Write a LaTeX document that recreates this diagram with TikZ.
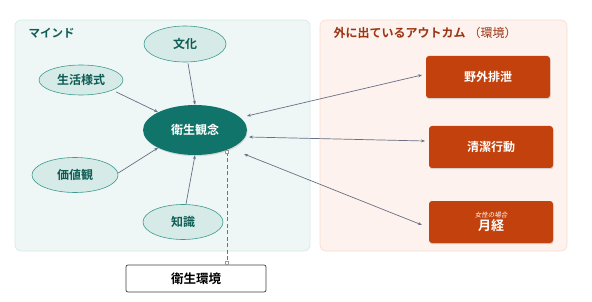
\documentclass[tikz,border=0pt]{standalone}
\usepackage{fontspec}
\setmainfont{Noto Sans CJK JP}[BoldFont={Noto Sans CJK JP Bold}]
\newfontfamily\jpslant{Noto Sans CJK JP}[FakeSlant=0.2]
\usetikzlibrary{arrows.meta,shadows,shapes.geometric}
\definecolor{mindfill}{HTML}{EEF7F6}
\definecolor{mindborder}{HTML}{D3EAE6}
\definecolor{mindtitle}{HTML}{0F5C55}
\definecolor{outfill}{HTML}{FDF2ED}
\definecolor{outborder}{HTML}{FADCCB}
\definecolor{outtitle}{HTML}{9A3412}
\definecolor{ellfill}{HTML}{D6EBE7}
\definecolor{ellborder}{HTML}{3E9A8E}
\definecolor{ellfont}{HTML}{0F5C55}
\definecolor{corefill}{HTML}{11746A}
\definecolor{boxfill}{HTML}{C2410C}
\definecolor{arrowgray}{HTML}{667085}
\tikzset{
  x=1pt, y=-1pt,
  panel/.style={rounded corners=6pt, line width=0.6pt},
  factor/.style={ellipse, draw=ellborder, fill=ellfill, line width=0.6pt, inner sep=0pt,
    text=ellfont, font=\bfseries\fontsize{12}{14}\selectfont},
  core/.style={ellipse, fill=corefill, inner sep=0pt, text=white,
    font=\bfseries\fontsize{12}{14}\selectfont,
    drop shadow={opacity=0.25, shadow xshift=0.6pt, shadow yshift=-1.2pt}},
  outbox/.style={rectangle, rounded corners=3pt, fill=boxfill, text=white,
    minimum width=124pt, minimum height=42pt, inner sep=0pt,
    font=\bfseries\fontsize{12}{14}\selectfont, align=center,
    drop shadow={opacity=0.3, shadow xshift=0.6pt, shadow yshift=-1.2pt}},
  envbox/.style={rectangle, rounded corners=2pt, draw=black!75, fill=white, line width=0.7pt,
    minimum width=140pt, minimum height=27pt, inner sep=0pt,
    font=\bfseries\fontsize{12.5}{14}\selectfont},
  link/.style={draw=arrowgray, line width=0.7pt, -{Stealth[length=4pt,width=3pt]}},
  bilink/.style={draw=arrowgray, line width=0.7pt, {Stealth[length=4pt,width=3pt]}-{Stealth[length=4pt,width=3pt]}},
  envlink/.style={draw=black!55, line width=0.6pt, dash pattern=on 4pt off 2.5pt},
  endmark/.style={rectangle, draw=black!40, fill=white, line width=0.4pt, minimum size=3pt, inner sep=0pt}
}
\begin{document}
\begin{tikzpicture}
\useasboundingbox (0,0) rectangle (592,302);
% panels
\draw[panel, fill=mindfill, draw=mindborder] (15,20) rectangle (310,251);
\draw[panel, fill=outfill, draw=outborder] (320,20) rectangle (567,251);
\node[anchor=west, text=mindtitle, font=\bfseries\fontsize{11.5}{13}\selectfont] (mindtitle) at (25,33) {マインド};
\node[anchor=west, text=outtitle, font=\fontsize{12}{14}\selectfont] (outtitle) at (330,33) {\textbf{外に出ているアウトカム}\hspace{3pt}（環境）};
% mind nodes
\node[factor, minimum width=82pt, minimum height=36pt] (bunka) at (185,44) {文化};
\node[factor, minimum width=84pt, minimum height=30pt] (seikatsu) at (81,80) {生活様式};
\node[core, minimum width=104pt, minimum height=50pt] (eisei) at (195,130) {衛生観念};
\node[factor, minimum width=86pt, minimum height=35pt] (kachi) at (75,175) {価値観};
\node[factor, minimum width=80pt, minimum height=35pt] (chishiki) at (183,222) {知識};
% outcome boxes
\node[outbox] (yagai) at (488,77) {野外排泄};
\node[outbox] (seiketsu) at (491,147) {清潔行動};
\node[outbox] (gekkei) at (491,222) {{\jpslant\mdseries\fontsize{6.5}{7.5}\selectfont 女性の場合}\\[-1pt]{\fontsize{13}{14}\selectfont 月経}};
% environment
\node[envbox] (kankyo) at (196,278.5) {衛生環境};
% connectors
\draw[link] (bunka.south) ++(3,1) coordinate (b1) (b1) -- (eisei.north);
\draw[link] (seikatsu.south east) ++(5,1) coordinate (s1) (s1) -- (eisei.north west);
\draw[link] (kachi.east) ++(0,-2) coordinate (k1) (k1) -- (eisei.south west);
\draw[link] (chishiki.north) ++(3,0) coordinate (c1) (c1) -- (eisei.south);
\coordinate (e1) at (247,116);
\coordinate (e2) at (249,137);
\coordinate (e3) at (244,154);
\coordinate (y1) at (422,75);
\coordinate (q1) at (425,141);
\coordinate (g1) at (422,225);
\draw[bilink] (e1) -- (y1);
\draw[bilink] (e2) -- (q1);
\draw[bilink] (e3) -- (g1);
\coordinate (d1) at (227,152);
\coordinate (d2) at (227,263);
\draw[envlink] (d1) -- (d2);
\node[endmark] (m1) at (d1) {};
\node[endmark] (m2) at (d2) {};
\end{tikzpicture}
\end{document}
